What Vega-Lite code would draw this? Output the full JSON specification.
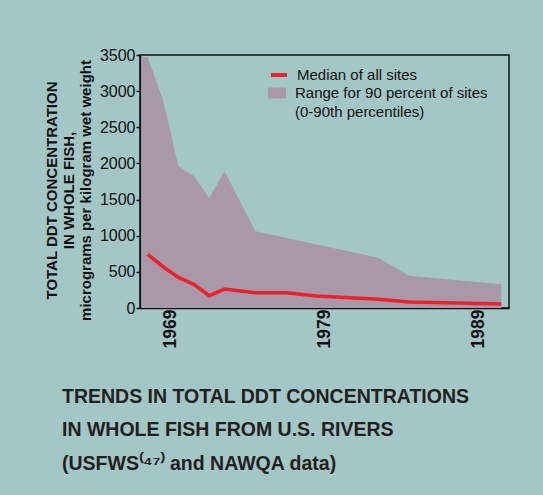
{
  "$schema": "https://vega.github.io/schema/vega-lite/v6.json",
  "width": 369,
  "height": 253,
  "autosize": {"type": "none"},
  "padding": {"left": 140, "top": 55, "right": 34, "bottom": 187},
  "background": "#a3c6c6",
  "config": {
    "font": "Liberation Sans",
    "view": {"stroke": "#111111", "strokeWidth": 1.5},
    "axis": {"domainColor": "#111111", "tickColor": "#111111", "labelColor": "#111111", "titleColor": "#111111", "grid": false, "domainWidth": 1.5, "tickWidth": 1.5, "labelOverlap": false}
  },
  "title": {
    "text": ["TRENDS IN TOTAL DDT CONCENTRATIONS", "IN WHOLE FISH FROM U.S. RIVERS", "(USFWS⁽⁴⁷⁾ and NAWQA data)"],
    "orient": "bottom",
    "anchor": "start",
    "frame": "group",
    "font": "Liberation Sans",
    "fontSize": 19.5,
    "fontWeight": "bold",
    "color": "#231f20",
    "lineHeight": 33.5,
    "dx": -78,
    "offset": 40
  },
  "datasets": {
    "range": [
      {"year": 1967.1, "value": 3470},
      {"year": 1967.5, "value": 3470},
      {"year": 1968.5, "value": 2873},
      {"year": 1969.5, "value": 1961},
      {"year": 1970.5, "value": 1827},
      {"year": 1971.5, "value": 1523},
      {"year": 1972.5, "value": 1892},
      {"year": 1974.5, "value": 1063},
      {"year": 1982.5, "value": 695},
      {"year": 1984.5, "value": 446},
      {"year": 1990.5, "value": 327}
    ],
    "median": [
      {"year": 1967.5, "value": 742},
      {"year": 1968.5, "value": 571},
      {"year": 1969.5, "value": 424},
      {"year": 1970.5, "value": 327},
      {"year": 1971.5, "value": 170},
      {"year": 1972.5, "value": 262},
      {"year": 1974.5, "value": 211},
      {"year": 1976.5, "value": 211},
      {"year": 1978.5, "value": 166},
      {"year": 1982.5, "value": 120},
      {"year": 1984.5, "value": 83},
      {"year": 1990.5, "value": 55}
    ]
  },
  "encoding": {
    "x": {
      "field": "year", "type": "quantitative",
      "scale": {"domain": [1967, 1991], "nice": false, "zero": false},
      "axis": {
        "title": null,
        "values": [1969, 1971, 1973, 1975, 1977, 1979, 1981, 1983, 1985, 1987, 1989],
        "labelExpr": "datum.value % 10 == 9 ? datum.label : ''",
        "format": "d",
        "labelAngle": 270,
        "labelAlign": "right",
        "labelBaseline": "middle",
        "labelFontSize": 17.5,
        "labelFontWeight": "bold",
        "tickSize": -6,
        "labelPadding": 7
      }
    },
    "y": {
      "field": "value", "type": "quantitative",
      "scale": {"domain": [0, 3500], "nice": false},
      "axis": {
        "values": [0, 500, 1000, 1500, 2000, 2500, 3000, 3500],
        "format": "d",
        "labelFontSize": 16,
        "tickSize": 4,
        "labelPadding": 1,
        "title": ["TOTAL DDT CONCENTRATION", "IN WHOLE FISH,", "micrograms per kilogram wet weight"],
        "titleFontSize": 15,
        "titleFontWeight": "bold",
        "titleLineHeight": 17,
        "titlePadding": 6,
        "titleY": 135
      }
    }
  },
  "layer": [
    {
      "data": {"name": "range"},
      "mark": {"type": "area", "opacity": 1},
      "encoding": {
        "fill": {
          "datum": "Range for 90 percent of sites",
          "scale": {"domain": ["Range for 90 percent of sites", "(0-90th percentiles)"], "range": ["#a898a9", "rgba(0,0,0,0)"]},
          "legend": {
            "title": null,
            "orient": "none",
            "legendX": 128,
            "legendY": 29,
            "symbolType": "M-1,-0.6H1V0.6H-1Z",
            "symbolSize": 324,
            "symbolStrokeWidth": 0,
            "symbolOpacity": 1,
            "labelFontSize": 15,
            "labelColor": "#111111",
            "labelOffset": 9,
            "rowPadding": 1.5,
            "labelLimit": 300
          }
        }
      }
    },
    {
      "data": {"name": "median"},
      "mark": {"type": "line", "strokeWidth": 3.5},
      "encoding": {
        "stroke": {
          "datum": "Median of all sites",
          "scale": {"range": ["#ee2229"]},
          "legend": {
            "title": null,
            "orient": "none",
            "legendX": 129,
            "legendY": 10,
            "symbolType": "stroke",
            "symbolSize": 256,
            "symbolStrokeWidth": 4,
            "labelFontSize": 15,
            "labelColor": "#111111",
            "labelOffset": 8,
            "labelLimit": 300
          }
        }
      }
    }
  ]
}
